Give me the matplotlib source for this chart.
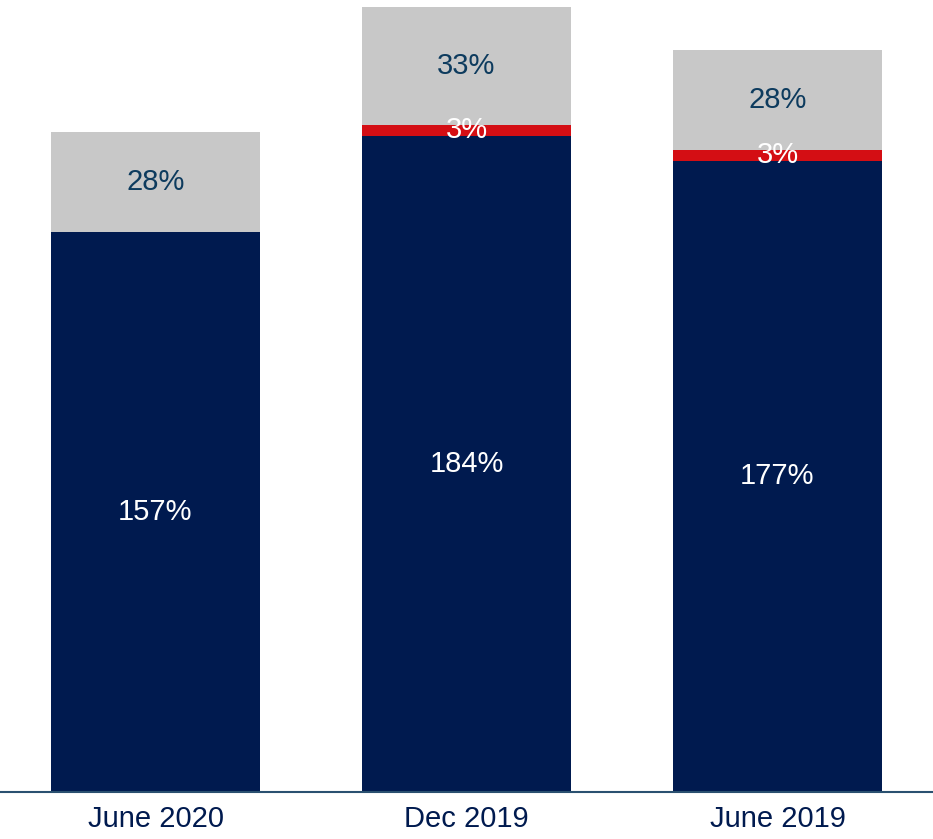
import numpy as np
import matplotlib.pyplot as plt

plt.rcParams['font.family'] = ['Liberation Sans', 'DejaVu Sans']

periods = ['June 2020', 'Dec 2019', 'June 2019']
core = [157, 184, 177]
extra = [0, 3, 3]
buffer = [28, 33, 28]

NAVY = '#001a4f'
RED = '#d40e14'
GREY = '#c8c8c8'
LABEL_DARK = '#0d3b5e'

fig = plt.figure(figsize=(9.33, 8.39), dpi=100)
ax = fig.add_axes([0, 0.056, 1, 0.944])

x = np.arange(len(periods))
w = 0.67
core = np.array(core)
extra = np.array(extra)
buffer = np.array(buffer)

ax.bar(x, core, w, color=NAVY)
ax.bar(x, extra, w, bottom=core, color=RED)
ax.bar(x, buffer, w, bottom=core + extra, color=GREY)

for i in range(len(periods)):
    ax.text(x[i], core[i] / 2, f'{core[i]}%', ha='center', va='center',
            color='white', fontsize=21)
    if extra[i]:
        ax.text(x[i], core[i] + extra[i] / 2, f'{extra[i]}%', ha='center',
                va='center', color='white', fontsize=21)
    ax.text(x[i], core[i] + extra[i] + buffer[i] / 2, f'{buffer[i]}%',
            ha='center', va='center', color=LABEL_DARK, fontsize=21)

ax.set_xlim(-0.5, 2.5)
ax.set_ylim(0, 222)
ax.set_xticks(x)
ax.set_xticklabels(periods, fontsize=21, color=NAVY)
ax.tick_params(axis='x', length=0, pad=9)
ax.set_yticks([])
for side in ['top', 'left', 'right']:
    ax.spines[side].set_visible(False)
ax.spines['bottom'].set_color('#2a5070')
ax.spines['bottom'].set_linewidth(1.5)

fig.savefig('out.png', dpi=100)
